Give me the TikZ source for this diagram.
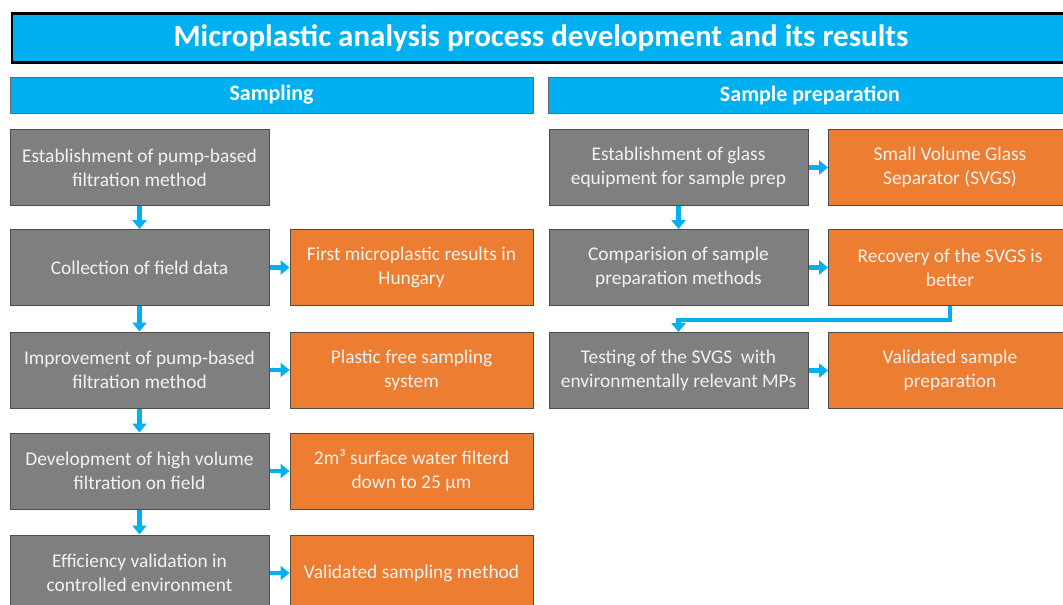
\documentclass[tikz,border=0pt]{standalone}
\usepackage{fontspec}
\setmainfont{Carlito}
\usetikzlibrary{arrows.meta}
\definecolor{headblue}{HTML}{00B0F0}
\definecolor{stepgray}{HTML}{7F7F7F}
\definecolor{resorange}{HTML}{ED7D31}

\begin{document}
\begin{tikzpicture}[x=1pt, y=-1pt]
    \tikzstyle{title_style} = [rectangle, draw=black, line width=2.5pt, fill=headblue, text=white, minimum width=1058pt, minimum height=49pt, font=\fontsize{31}{36}\selectfont\bfseries]
    \tikzstyle{head_style} = [rectangle, draw=black!60, line width=0.8pt, fill=headblue, text=white, minimum height=36pt, font=\fontsize{22}{26}\selectfont\bfseries]
    \tikzstyle{step_style} = [rectangle, draw=black!70, line width=1pt, fill=stepgray, text=white!95!black, minimum width=259pt, minimum height=76pt, align=center, inner sep=0pt, font=\fontsize{19.4}{24}\selectfont]
    \tikzstyle{result_style} = [rectangle, draw=black!70, line width=1pt, fill=resorange, text=white!95!black, minimum width=243pt, minimum height=76pt, align=center, inner sep=0pt, font=\fontsize{19.4}{24}\selectfont]
    \tikzstyle{arrow_style} = [draw=headblue, line width=4.5pt, -{Triangle[width=14pt, length=9pt]}]
    \useasboundingbox (0,0) rectangle (1063,605);
    \clip (0,0) rectangle (1063,605);

    \node[title_style] (title) at (541,38) {Microplastic analysis process development and its results};
    \node[head_style, minimum width=523pt] (sampling) at (271.5,95) {Sampling};
    \node[head_style, minimum width=524pt] (prep) at (810,95) {Sample preparation};

    % sampling column
    \node[step_style] (s1) at (139.5,167.5) {Establishment of pump-based\\filtration method};
    \node[step_style] (s2) at (139.5,267.5) {Collection of field data};
    \node[step_style] (s3) at (139.5,370) {Improvement of pump-based\\filtration method};
    \node[step_style] (s4) at (139.5,471) {Development of high volume\\filtration on field};
    \node[step_style] (s5) at (139.5,573) {Efficiency validation in\\controlled environment};
    \node[result_style] (r2) at (411.5,267.5) {First microplastic results in\\Hungary};
    \node[result_style] (r3) at (411.5,370) {Plastic free sampling\\system};
    \node[result_style] (r4) at (411.5,471) {2m³ surface water filterd\\down to 25 µm};
    \node[result_style] (r5) at (411.5,573) {Validated sampling method};

    % sample preparation column
    \node[step_style] (p1) at (678.5,167.5) {Establishment of glass\\equipment for sample prep};
    \node[step_style] (p2) at (678.5,267.5) {Comparision of sample\\preparation methods};
    \node[step_style] (p3) at (678.5,370.5) {Testing of the SVGS\ \ with\\environmentally relevant MPs};
    \node[result_style] (q1) at (950,167.5) {Small Volume Glass\\Separator (SVGS)};
    \node[result_style] (q2) at (950,267.5) {Recovery of the SVGS is\\better};
    \node[result_style] (q3) at (950,370.5) {Validated sample\\preparation};

    \draw[arrow_style] (s1) -- (s2);
    \draw[arrow_style] (s2) -- (s3);
    \draw[arrow_style] (s3) -- (s4);
    \draw[arrow_style] (s4) -- (s5);
    \draw[arrow_style] (s2) -- (r2);
    \draw[arrow_style] (s3) -- (r3);
    \draw[arrow_style] (s4) -- (r4);
    \draw[arrow_style] (s5.east |- r5) -- (r5);
    \draw[arrow_style] (p1) -- (p2);
    \draw[arrow_style] (p1) -- (q1);
    \draw[arrow_style] (p2) -- (q2);
    \draw[arrow_style] (p3) -- (q3);
    \draw[arrow_style] (q2.south) -- ++(0,14) -| (p3.north);
\end{tikzpicture}
\end{document}
